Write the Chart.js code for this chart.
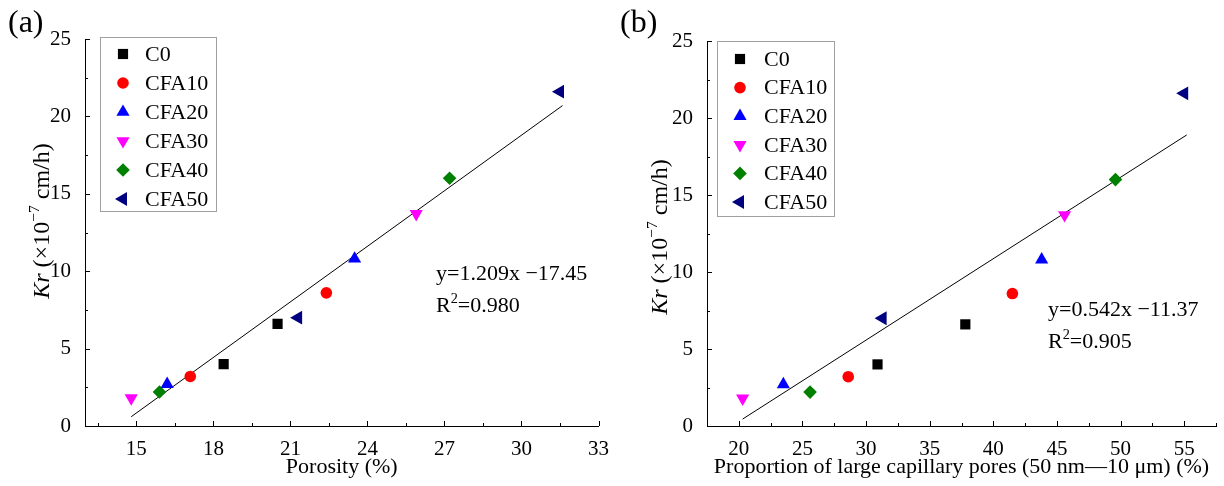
<!DOCTYPE html>
<html>
<head>
<meta charset="utf-8">
<script src="https://cdn.jsdelivr.net/npm/chart.js@4.4.0/dist/chart.umd.min.js"></script>
<style>
  body { margin: 0; background: #fff; width: 1224px; height: 486px; overflow: hidden; }
  canvas { position: absolute; top: 0; }
  #chartA { left: 0; }
  #chartB { left: 612px; }
</style>
</head>
<body>
<canvas id="chartA" width="612" height="486"></canvas>
<canvas id="chartB" width="612" height="486"></canvas>
<script>
// data
const groups = ["C0", "CFA10", "CFA20", "CFA30", "CFA40", "CFA50"];
const krValues = [[4.0, 6.6], [3.2, 8.6], [2.7, 10.8], [1.8, 13.7], [2.2, 16.0], [7.0, 21.6]];
const porosity = [[18.4, 20.5], [17.1, 22.4], [16.2, 23.5], [14.8, 25.9], [15.9, 27.2], [21.3, 31.5]];
const largePores = [[30.9, 37.8], [28.6, 41.5], [23.5, 43.8], [20.3, 45.6], [25.6, 49.6], [31.3, 55.0]];

// fitted lines, end points
const fitAx = [14.8, 31.6];
const fitAy = [0.6, 20.7];
const fitBx = [20.3, 55.2];
const fitBy = [0.45, 18.9];

// ticks
const yTicks = [0, 5, 10, 15, 20, 25];
const yMinor = [2.5, 7.5, 12.5, 17.5, 22.5];
const xTicksA = [15, 18, 21, 24, 27, 30, 33];
const xMinorA = [13.5, 16.5, 19.5, 22.5, 25.5, 28.5, 31.5];
const xTicksB = [20, 25, 30, 35, 40, 45, 50, 55];
const xMinorB = [22.5, 27.5, 32.5, 37.5, 42.5, 47.5, 52.5, 57.5];

// marker look
const colors = ["#000000", "#ff0000", "#0000ff", "#ff00ff", "#008000", "#000080"];
const styles = ["rect", "circle", "triangle", "triangle", "rectRot", "triangle"];
const rotations = [0, 0, 0, 180, 0, 270];
const radii = [7.2, 5.8, 7.6, 7.6, 6.8, 8.0];

const serif = '"Liberation Serif", "Times New Roman", serif';

function makeDatasets(xs, fx, fy) {
  const sets = groups.map((g, i) => ({
    label: g,
    data: xs[i].map((x, j) => ({ x: x, y: krValues[i][j] })),
    pointStyle: styles[i],
    pointRotation: rotations[i],
    pointRadius: radii[i],
    pointHoverRadius: radii[i],
    pointBackgroundColor: colors[i],
    pointBorderColor: colors[i],
    pointBorderWidth: 0,
    showLine: false
  }));
  sets.push({
    label: "fit",
    data: fx.map((x, j) => ({ x: x, y: fy[j] })),
    showLine: true,
    borderColor: "#000",
    borderWidth: 1,
    pointRadius: 0,
    fill: false
  });
  return sets;
}

function drawRich(ctx, parts, x, y, size) {
  // parts: [text, kind] kind: n normal, i italic, s superscript
  let cx = x;
  parts.forEach(([t, k]) => {
    if (k === "s") {
      ctx.font = (size * 0.65) + "px " + serif;
      ctx.fillText(t, cx, y - size * 0.42);
    } else {
      ctx.font = (k === "i" ? "italic " : "") + size + "px " + serif;
      ctx.fillText(t, cx, y);
    }
    cx += ctx.measureText(t).width;
  });
  return cx - x;
}

function richWidth(ctx, parts, size) {
  let w = 0;
  parts.forEach(([t, k]) => {
    ctx.font = (k === "s" ? (size * 0.65) + "px " : (k === "i" ? "italic " : "") + size + "px ") + serif;
    w += ctx.measureText(t).width;
  });
  return w;
}

function decor(p) {
  return {
    id: "decor",
    afterDraw(chart) {
      const ctx = chart.ctx;
      const xs = chart.scales.x, ys = chart.scales.y;
      const bottom = chart.chartArea.bottom, left = chart.chartArea.left;
      ctx.save();
      ctx.strokeStyle = "#000";
      ctx.lineWidth = 1;
      // inward ticks
      const xt = (vals, len) => vals.forEach(v => {
        const px = Math.round(xs.getPixelForValue(v)) + 0.5;
        ctx.beginPath(); ctx.moveTo(px, bottom); ctx.lineTo(px, bottom - len); ctx.stroke();
      });
      const yt = (vals, len) => vals.forEach(v => {
        const py = Math.round(ys.getPixelForValue(v)) + 0.5;
        ctx.beginPath(); ctx.moveTo(left, py); ctx.lineTo(left + len, py); ctx.stroke();
      });
      xt(p.xMajor, 5); xt(p.xMinor, 3);
      yt(yTicks, 5); yt(yMinor, 3);

      // legend
      const lb = p.legend;
      ctx.strokeStyle = "#a0a0a0";
      ctx.strokeRect(lb.x + 0.5, lb.y + 0.5, lb.w, lb.h);
      groups.forEach((g, i) => {
        const cy = lb.row0 + i * lb.gap;
        ctx.fillStyle = colors[i];
        Chart.helpers.drawPoint(ctx, {
          pointStyle: styles[i], radius: radii[i], rotation: rotations[i], borderWidth: 0
        }, lb.markX, cy);
        ctx.fillStyle = "#000";
        ctx.font = "22px " + serif;
        ctx.textBaseline = "middle";
        ctx.textAlign = "left";
        ctx.fillText(g, lb.textX, cy + 1);
      });

      // equation and R2
      ctx.fillStyle = "#000";
      ctx.textBaseline = "alphabetic";
      ctx.textAlign = "left";
      drawRich(ctx, [[p.eq, "n"]], p.eqX, p.eqY, 22);
      drawRich(ctx, [["R", "n"], ["2", "s"], [p.r2, "n"]], p.eqX, p.eqY + 32, 22);

      // y title
      const yParts = [["Kr", "i"], [" (\u00d710", "n"], ["\u22127", "s"], [" cm/h)", "n"]];
      ctx.save();
      ctx.translate(p.yTitleX, p.yTitleY);
      ctx.rotate(-Math.PI / 2);
      const w = richWidth(ctx, yParts, 24);
      drawRich(ctx, yParts, -w / 2, 8, 24);
      ctx.restore();

      // panel label
      ctx.font = "32px " + serif;
      ctx.textBaseline = "alphabetic";
      ctx.fillText(p.tag, p.tagX, 32);
      ctx.restore();
    }
  };
}

function makeChart(id, xs, fx, fy, xMin, xMax, xMajor, xTitle, yWidth, pad, p) {
  return new Chart(document.getElementById(id), {
    type: "scatter",
    data: { datasets: makeDatasets(xs, fx, fy) },
    options: {
      responsive: false,
      animation: false,
      events: [],
      layout: { padding: pad },
      plugins: { legend: { display: false }, tooltip: { enabled: false } },
      scales: {
        x: {
          type: "linear",
          min: xMin, max: xMax,
          grid: { display: false },
          border: { display: true, color: "#000", width: 1 },
          afterBuildTicks: s => { s.ticks = xMajor.map(v => ({ value: v })); },
          afterFit: s => { s.height = 54; },
          ticks: { color: "#000", font: { family: serif, size: 21 }, padding: 3, maxRotation: 0, autoSkip: false },
          title: { display: true, text: xTitle, color: "#000", font: { family: serif, size: 22 }, padding: { top: 0, bottom: 0 } }
        },
        y: {
          type: "linear",
          min: 0, max: 25,
          grid: { display: false },
          border: { display: true, color: "#000", width: 1 },
          afterBuildTicks: s => { s.ticks = yTicks.map(v => ({ value: v })); },
          afterFit: s => { s.width = yWidth; },
          ticks: { color: "#000", font: { family: serif, size: 21 }, padding: 6 }
        }
      }
    },
    plugins: [decor(p)]
  });
}

makeChart("chartA", porosity, fitAx, fitAy, 13, 33, xTicksA, "Porosity (%)", 85,
  { top: 39, right: 8, bottom: 6, left: 0 },
  {
    xMajor: xTicksA, xMinor: xMinorA,
    legend: { x: 100, y: 37, w: 116, h: 174, row0: 54, gap: 29, markX: 123, textX: 145 },
    eq: "y=1.209x \u221217.45", r2: "=0.980", eqX: 436, eqY: 280,
    yTitleX: 41, yTitleY: 221, tag: "(a)", tagX: 8
  });

makeChart("chartB", largePores, fitBx, fitBy, 17.5, 57.5, xTicksB,
  "Proportion of large capillary pores (50 nm\u201410 \u03bcm) (%)", 95,
  { top: 41, right: 1, bottom: 6, left: 0 },
  {
    xMajor: xTicksB, xMinor: xMinorB,
    legend: { x: 105, y: 41, w: 117, h: 175, row0: 59, gap: 28.6, markX: 128, textX: 152 },
    eq: "y=0.542x \u221211.37", r2: "=0.905", eqX: 436, eqY: 316,
    yTitleX: 47, yTitleY: 237, tag: "(b)", tagX: 8
  });
</script>
</body>
</html>
